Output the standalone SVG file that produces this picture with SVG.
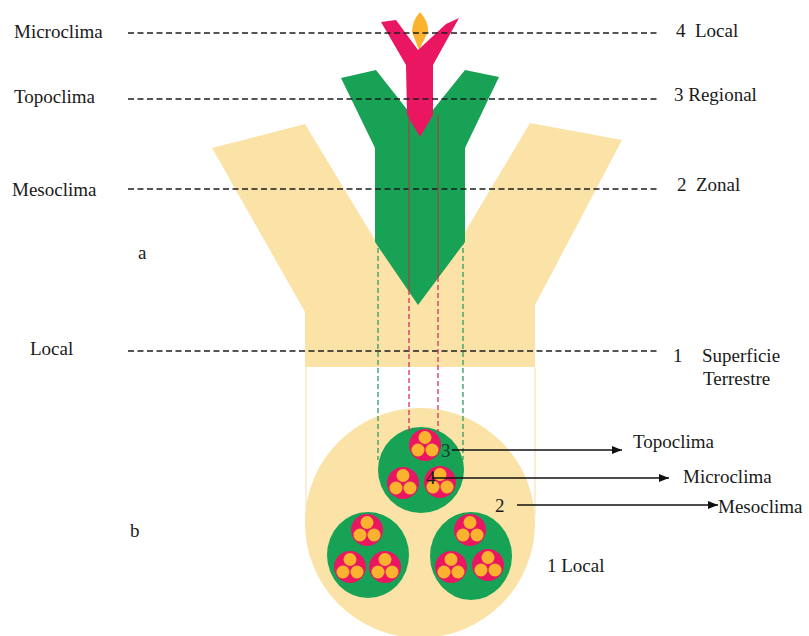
<svg xmlns="http://www.w3.org/2000/svg" width="809" height="636" viewBox="0 0 809 636">
<style>
  text { font-family: "Liberation Serif", "Times New Roman", serif; font-size: 19px; fill: #1a1a1a; }
  .lvl { fill: none; stroke: #1e1e1e; stroke-width: 1.4; stroke-dasharray: 6 3.5; }
  .gdash { fill: none; stroke: #2e9c66; stroke-width: 1.3; stroke-dasharray: 5 3; }
  .pdash { fill: none; stroke: #d8305f; stroke-width: 1.3; stroke-dasharray: 5 3; }
  .psolid { fill: none; stroke: #9a4a44; stroke-width: 1.3; }
  .arrow { fill: none; stroke: #111; stroke-width: 1.3; marker-end: url(#ah); }
  .beige { fill: #fbe2a6; }
  .green { fill: #17a256; }
  .pink { fill: #ea1662; }
  .orange { fill: #fbb22f; }
</style>
<defs>
  <marker id="ah" viewBox="0 0 10 8" refX="10" refY="4" markerWidth="10" markerHeight="8" markerUnits="userSpaceOnUse" orient="auto">
    <path d="M0,0 L10,4 L0,8 Z" fill="#111"/>
  </marker>
  <g id="cluster">
    <circle r="16" class="pink"/>
    <circle cx="0" cy="-7.5" r="6.5" class="orange"/>
    <circle cx="-7" cy="5" r="6.5" class="orange"/>
    <circle cx="7" cy="5" r="6.5" class="orange"/>
  </g>
</defs>
<rect width="809" height="636" fill="#ffffff"/>

<!-- Part a: nested Y shapes -->
<g id="beige-y">
  <polygon class="beige" points="212,148 305,124 375,240 418,300 465,232 530,123 622,140 535,305 535,367 305,367 305,312"/>
</g>
<g id="green-y">
  <polygon class="green" points="341,78 376,70 420,126 465,70 499,77 465,148 465,242 418,305 375,242 375,148"/>
</g>
<g id="orange-flame">
  <path class="orange" d="M420,12 Q429,22 428,32 L419,50 L412,32 Q412,21 420,12 Z"/>
</g>
<g id="pink-y">
  <polygon class="pink" points="381,22 396,20 418,50 446,24 459,18 433,65 433,115 420,137 407,115 406,65"/>
</g>

<!-- Part b: nested circles -->
<g id="frame-lines">
  <line x1="306" y1="367" x2="306" y2="515" stroke="#f6e4b8" stroke-width="1.2"/>
  <line x1="535" y1="367" x2="535" y2="515" stroke="#f6e4b8" stroke-width="1.2"/>
</g>
<g id="big-circle">
  <circle cx="420" cy="523" r="115" class="beige"/>
</g>
<g id="circle-top">
  <circle cx="421" cy="470" r="43" class="green"/>
  <use href="#cluster" x="425" y="445"/>
  <use href="#cluster" x="403" y="483"/>
  <use href="#cluster" x="440" y="482"/>
</g>
<g id="circle-left">
  <ellipse cx="368" cy="555" rx="41" ry="43" class="green"/>
  <use href="#cluster" x="367" y="530"/>
  <use href="#cluster" x="350" y="567"/>
  <use href="#cluster" x="385" y="567"/>
</g>
<g id="circle-right">
  <ellipse cx="471" cy="556" rx="41" ry="44" class="green"/>
  <use href="#cluster" x="470" y="530"/>
  <use href="#cluster" x="451" y="567"/>
  <use href="#cluster" x="488" y="565"/>
</g>

<!-- Connectors -->
<g id="connectors">
  <line class="lvl" x1="128" y1="33" x2="657" y2="33"/>
  <line class="lvl" x1="128" y1="99" x2="657" y2="99"/>
  <line class="lvl" x1="128" y1="189" x2="657" y2="189"/>
  <line class="lvl" x1="128" y1="351" x2="657" y2="351"/>
  <line class="gdash" x1="378" y1="240" x2="378" y2="460"/>
  <line class="gdash" x1="463" y1="240" x2="463" y2="460"/>
  <line class="psolid" x1="409" y1="115" x2="409" y2="290"/>
  <line class="psolid" x1="438" y1="115" x2="438" y2="277"/>
  <line class="pdash" x1="409" y1="290" x2="409" y2="432"/>
  <line class="pdash" x1="438" y1="277" x2="438" y2="432"/>
  <line class="arrow" x1="452" y1="450" x2="622" y2="450"/>
  <line class="arrow" x1="432" y1="478" x2="669" y2="478"/>
  <line class="arrow" x1="517" y1="505" x2="718" y2="505"/>
</g>

<!-- Labels -->
<g id="labels">
  <text x="14" y="38">Microclima</text>
  <text x="14" y="103">Topoclima</text>
  <text x="12" y="196">Mesoclima</text>
  <text x="138" y="259">a</text>
  <text x="30" y="355">Local</text>
  <text x="130" y="537">b</text>
  <text x="676" y="37" xml:space="preserve">4  Local</text>
  <text x="674" y="101">3 Regional</text>
  <text x="677" y="191" xml:space="preserve">2  Zonal</text>
  <text x="673" y="362">1</text>
  <text x="702" y="362">Superficie</text>
  <text x="703" y="385">Terrestre</text>
  <text x="441" y="457" font-size="17" style="fill:#1d3a2a">3</text>
  <text x="426" y="484" font-size="17">4</text>
  <text x="495" y="512" font-size="17">2</text>
  <text x="633" y="448">Topoclima</text>
  <text x="683" y="483">Microclima</text>
  <text x="718" y="513">Mesoclima</text>
  <text x="547" y="572">1 Local</text>
</g>
</svg>
